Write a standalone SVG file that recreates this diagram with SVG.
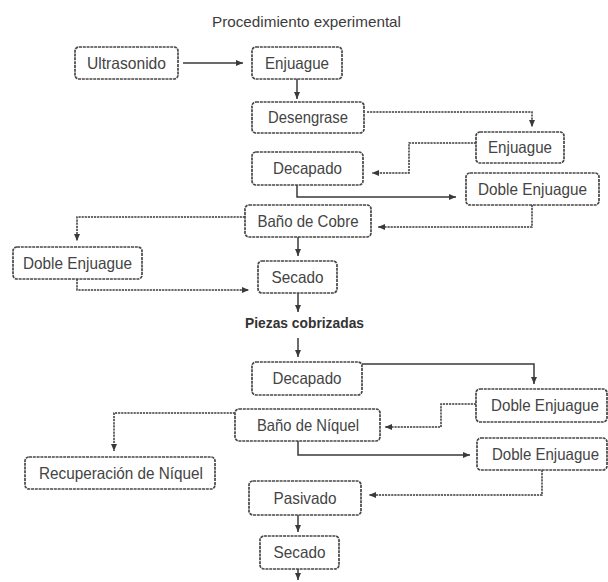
<svg xmlns="http://www.w3.org/2000/svg" width="608" height="582" viewBox="0 0 608 582">
<style>
.box{fill:#fff;stroke:#474747;stroke-width:1.7;stroke-dasharray:3 0.8}
.t{font-family:"Liberation Sans",Arial,sans-serif;font-size:16.5px;fill:#444;text-anchor:middle}
.title{font-family:"Liberation Sans",Arial,sans-serif;font-size:15px;fill:#3c3c3c;text-anchor:middle}
.bold{font-family:"Liberation Sans",Arial,sans-serif;font-size:15px;font-weight:bold;fill:#333;text-anchor:middle}
.c{fill:none;stroke:#3a3a3a;stroke-width:1.5;marker-end:url(#ah)}
.d{stroke-dasharray:2.2 0.9}
</style>
<defs>
<marker id="ah" markerUnits="userSpaceOnUse" markerWidth="7" markerHeight="6" refX="7" refY="3" orient="auto">
<path d="M0,0 L7,3 L0,6 z" fill="#3a3a3a"/>
</marker>
</defs>
<rect width="608" height="582" fill="#fff"/>
<text class="title" x="306.5" y="27" textLength="189" lengthAdjust="spacingAndGlyphs">Procedimiento experimental</text>
<g id="connectors">
<path class="c" d="M183,63 H243"/>
<path class="c" d="M297,79 V99"/>
<path class="c d" d="M367,112 H532 V127"/>
<path class="c d" d="M476,143 H409 V173 H372"/>
<path class="c" d="M297,185 V197 H456"/>
<path class="c d" d="M532,205 V227 H378"/>
<path class="c d" d="M245,217 H77 V241"/>
<path class="c d" d="M77,279 V290 H249"/>
<path class="c" d="M298,237 V256"/>
<path class="c" d="M298,292 V312"/>
<path class="c" d="M298,338 V357"/>
<path class="c" d="M362,364 H534 V384"/>
<path class="c d" d="M476,404 H441 V427 H385"/>
<path class="c d" d="M235,413 H114 V451"/>
<path class="c" d="M298,441 V455 H470"/>
<path class="c d" d="M542,470 V495 H369"/>
<path class="c" d="M298,515 V532"/>
<path class="c" d="M298,569 V580"/>
</g>
<g id="ultrasonido"><rect class="box" x="75" y="47" width="103" height="32" rx="4"/><text class="t" x="126.5" y="69" textLength="79" lengthAdjust="spacingAndGlyphs">Ultrasonido</text></g>
<g id="enjuague1"><rect class="box" x="252" y="47" width="90" height="32" rx="4"/><text class="t" x="297" y="69" textLength="64" lengthAdjust="spacingAndGlyphs">Enjuague</text></g>
<g id="desengrase"><rect class="box" x="252" y="102" width="112" height="31" rx="4"/><text class="t" x="308" y="123" textLength="80" lengthAdjust="spacingAndGlyphs">Desengrase</text></g>
<g id="enjuague2"><rect class="box" x="476" y="132" width="88" height="31" rx="4"/><text class="t" x="520" y="153" textLength="64" lengthAdjust="spacingAndGlyphs">Enjuague</text></g>
<g id="decapado1"><rect class="box" x="252" y="152" width="111" height="33" rx="4"/><text class="t" x="307.5" y="174" textLength="69" lengthAdjust="spacingAndGlyphs">Decapado</text></g>
<g id="doble1"><rect class="box" x="466" y="173" width="133" height="32" rx="4"/><text class="t" x="532.5" y="195" textLength="109" lengthAdjust="spacingAndGlyphs">Doble Enjuague</text></g>
<g id="cobre"><rect class="box" x="245" y="205" width="126" height="32" rx="4"/><text class="t" x="308" y="227" textLength="101" lengthAdjust="spacingAndGlyphs">Baño de Cobre</text></g>
<g id="doble2"><rect class="box" x="13" y="247" width="129" height="32" rx="4"/><text class="t" x="77.5" y="269" textLength="109" lengthAdjust="spacingAndGlyphs">Doble Enjuague</text></g>
<g id="secado1"><rect class="box" x="258" y="261" width="79" height="32" rx="4"/><text class="t" x="297.5" y="283" textLength="52" lengthAdjust="spacingAndGlyphs">Secado</text></g>
<g id="piezas"><text class="bold" x="304.5" y="328" textLength="119" lengthAdjust="spacingAndGlyphs">Piezas cobrizadas</text></g>
<g id="decapado2"><rect class="box" x="252" y="362" width="110" height="33" rx="4"/><text class="t" x="307" y="384" textLength="69" lengthAdjust="spacingAndGlyphs">Decapado</text></g>
<g id="doble3"><rect class="box" x="476" y="389" width="131" height="33" rx="4"/><text class="t" x="545" y="411" textLength="108" lengthAdjust="spacingAndGlyphs">Doble Enjuague</text></g>
<g id="niquel"><rect class="box" x="235" y="409" width="145" height="32" rx="4"/><text class="t" x="308" y="431" textLength="102" lengthAdjust="spacingAndGlyphs">Baño de Níquel</text></g>
<g id="doble4"><rect class="box" x="477" y="438" width="130" height="32" rx="4"/><text class="t" x="545.5" y="460" textLength="107" lengthAdjust="spacingAndGlyphs">Doble Enjuague</text></g>
<g id="recuperacion"><rect class="box" x="25" y="457" width="190" height="32" rx="4"/><text class="t" x="121" y="479" textLength="164" lengthAdjust="spacingAndGlyphs">Recuperación de Níquel</text></g>
<g id="pasivado"><rect class="box" x="249" y="481" width="112" height="34" rx="4"/><text class="t" x="305" y="504" textLength="63" lengthAdjust="spacingAndGlyphs">Pasivado</text></g>
<g id="secado2"><rect class="box" x="260" y="536" width="79" height="33" rx="4"/><text class="t" x="299.5" y="558" textLength="52" lengthAdjust="spacingAndGlyphs">Secado</text></g>
</svg>
